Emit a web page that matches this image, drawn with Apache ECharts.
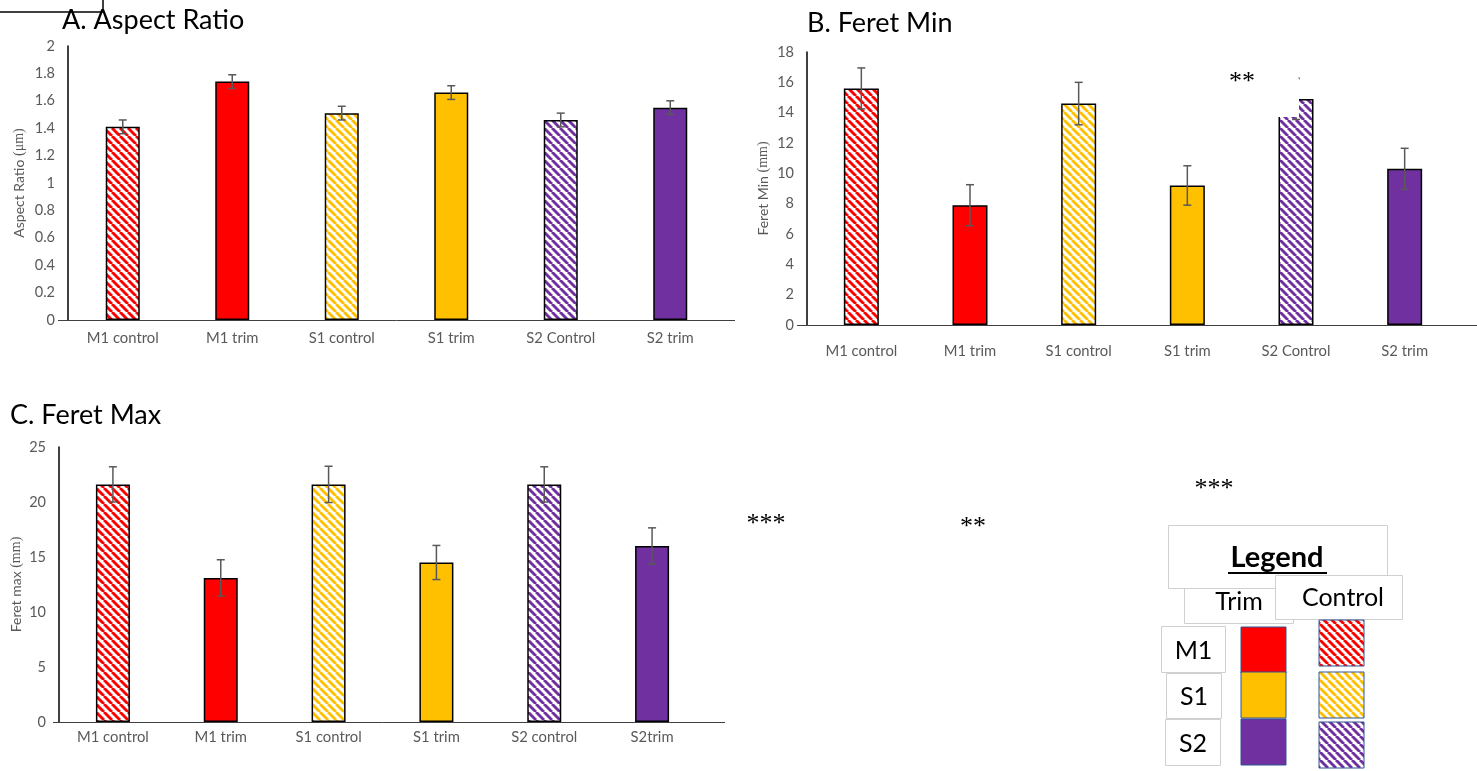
<!DOCTYPE html>
<html><head><meta charset="utf-8">
<script src="https://cdn.jsdelivr.net/npm/echarts@6/dist/echarts.min.js"></script>
<style>html,body{margin:0;padding:0;background:#fff}#c{width:1477px;height:771px}</style>
</head><body><div id="c"></div>
<script>
// ---- data ----
const catsA = ['M1 control','M1 trim','S1 control','S1 trim','S2 Control','S2 trim'];
const valsA = [1.41,1.74,1.51,1.66,1.46,1.55];
const errA  = [0.05,0.05,0.05,0.05,0.05,0.05];
const ticksA = {min:0, max:2, interval:0.2};

const catsB = ['M1 control','M1 trim','S1 control','S1 trim','S2 Control','S2 trim'];
const valsB = [15.6,7.9,14.6,9.2,14.9,10.3];
const errB  = [1.35,1.35,1.4,1.3,1.35,1.35];
const ticksB = {min:0, max:18, interval:2};

const catsC = ['M1 control','M1 trim','S1 control','S1 trim','S2 control','S2trim'];
const valsC = [21.6,13.1,21.6,14.5,21.6,16.0];
const errC  = [1.6,1.65,1.65,1.55,1.6,1.65];
const ticksC = {min:0, max:25, interval:5};

const groupColors = ['#ff0000','#ff0000','#ffc000','#ffc000','#7030a0','#7030a0'];
const isControl = [true,false,true,false,true,false];
const legendRows = ['M1','S1','S2'];
const legendColors = ['#ff0000','#ffc000','#7030a0'];

// ---- helpers ----
function stripes(color){
  const s=8, c=document.createElement('canvas'); c.width=s; c.height=s;
  const g=c.getContext('2d'); g.fillStyle='#fff'; g.fillRect(0,0,s,s);
  g.strokeStyle=color; g.lineWidth=2.9; g.beginPath();
  for (let k=-1;k<=1;k++){ g.moveTo(k*s,0); g.lineTo(k*s+s,s); }
  g.stroke();
  return {image:c, repeat:'repeat'};
}
const FONT = 'Lato';
const GRAY = '#595959';
function barSeries(vals, idx, w){
  return {type:'bar', xAxisIndex:idx, yAxisIndex:idx, barWidth:w, z:2,
    data: vals.map((v,i)=>({value:v, itemStyle:{
      color: isControl[i] ? stripes(groupColors[i]) : groupColors[i],
      borderColor:'#000', borderWidth:1.5}}))};
}
function errSeries(vals, errs, idx){
  return {type:'custom', xAxisIndex:idx, yAxisIndex:idx, z:5,
    encode:{x:0, y:[1,2]},
    data: vals.map((v,i)=>[i, v-errs[i], v+errs[i]]),
    renderItem:(p, api)=>{
      const lo=api.coord([api.value(0), api.value(1)]);
      const hi=api.coord([api.value(0), api.value(2)]);
      const w=4, st={stroke:'#595959', lineWidth:1.5};
      return {type:'group', children:[
        {type:'line', shape:{x1:hi[0],y1:hi[1],x2:lo[0],y2:lo[1]}, style:st},
        {type:'line', shape:{x1:hi[0]-w,y1:hi[1],x2:hi[0]+w,y2:hi[1]}, style:st},
        {type:'line', shape:{x1:lo[0]-w,y1:lo[1],x2:lo[0]+w,y2:lo[1]}, style:st}
      ]};
    }};
}
function xAx(cats, idx, margin){
  return {type:'category', gridIndex:idx, data:cats,
    axisTick:{show:false},
    axisLine:{show:true, lineStyle:{color:'#404040', width:1}},
    axisLabel:{color:GRAY, fontFamily:FONT, fontSize:14.8, margin:margin}};
}
function yAx(t, idx, name, unit, gap){
  return {type:'value', gridIndex:idx, min:t.min, max:t.max, interval:t.interval,
    splitLine:{show:false},
    axisLine:{show:true, lineStyle:{color:'#000', width:1.5}},
    axisTick:{show:false},
    axisLabel:{color:GRAY, fontFamily:FONT, fontSize:14.5, margin:13},
    name:'{a|'+name+' }{b|'+unit+'}', nameLocation:'middle', nameGap:gap,
    nameTextStyle:{rich:{
      a:{color:GRAY, fontFamily:FONT, fontSize:14},
      b:{color:GRAY, fontFamily:'Liberation Serif', fontSize:14}}}};
}

const titleStyle = {fontFamily:FONT, fontSize:27, fontWeight:'normal', color:'#000'};
function txt(x,y,t,size,extra){ return Object.assign({type:'text', x:x, y:y, z:120,
  style:{text:t, fill:'#000', font:(size)+'px "Liberation Serif"', textAlign:'center', textVerticalAlign:'middle'}}, extra||{}); }
function seg(x1,y1,x2,y2,color,w,z){ return {type:'line', z:z||110, shape:{x1,y1,x2,y2}, style:{stroke:color, lineWidth:w}}; }
const boxStroke = '#d0d0d0';

const graphics = [
  // top-left stub box
  seg(0,12,103,12,'#000',1.5), seg(103,0,103,12,'#000',1.5),
  // x-axis line extensions
  seg(58,320.5,68,320.5,'#404040',1), seg(725,320.5,735,320.5,'#404040',1),
  seg(797,325.5,807,325.5,'#404040',1), seg(1459,325.5,1477,325.5,'#404040',1),
  seg(53,722.5,59,722.5,'#404040',1), seg(706,722.5,725,722.5,'#404040',1),
  // white box covering part of panel B
  {type:'rect', z:115, shape:{x:1215, y:55, width:84, height:62}, style:{fill:'#fff'}},
  {type:'rect', z:116, shape:{x:1298, y:77, width:1.5, height:1.5}, style:{fill:'#bbb'}},
  // significance stars
  txt(1242,82,'**',26), txt(766,524,'***',26), txt(973,527,'**',26), txt(1214,489,'***',26),
  // legend boxes
  {type:'rect', z:100, shape:{x:1184.5, y:560, width:109, height:63}, style:{fill:'#fff'}},
  {type:'polyline', z:101, shape:{points:[[1184.5,588],[1184.5,623.5],[1293.5,623.5],[1293.5,600]]}, style:{stroke:boxStroke, fill:null, lineWidth:1}},
  {type:'rect', z:102, shape:{x:1168.5, y:525.5, width:219, height:63}, style:{fill:'#fff', stroke:boxStroke, lineWidth:1}},
  {type:'rect', z:103, shape:{x:1275.5, y:575.5, width:127, height:44}, style:{fill:'#fff', stroke:boxStroke, lineWidth:1}},
  {type:'text', x:1277, y:558, z:120, style:{text:'Legend', fill:'#000', font:'bold 29px Lato', textAlign:'center', textVerticalAlign:'middle'}},
  seg(1228,573,1327,573,'#000',2,120),
  {type:'text', x:1239, y:602, z:120, style:{text:'Trim', fill:'#000', font:'25px Lato', textAlign:'center', textVerticalAlign:'middle'}},
  {type:'text', x:1343, y:598, z:120, style:{text:'Control', fill:'#000', font:'25px Lato', textAlign:'center', textVerticalAlign:'middle'}}
];
const rowBoxes = [[1161.5,626.5,64,46],[1166.5,673.5,55,45],[1165.5,719.5,55,46]];
const trimY = [627,672,719], ctrlY = [620,672,722];
legendRows.forEach((r,i)=>{
  const b=rowBoxes[i];
  graphics.push({type:'rect', z:104, shape:{x:b[0],y:b[1],width:b[2],height:b[3]}, style:{fill:'#fff', stroke:boxStroke, lineWidth:1}});
  graphics.push({type:'text', x:b[0]+b[2]/2, y:b[1]+b[3]/2+1, z:120, style:{text:r, fill:'#000', font:'25px Lato', textAlign:'center', textVerticalAlign:'middle'}});
  graphics.push({type:'rect', z:104, shape:{x:1241, y:trimY[i], width:45, height:46}, style:{fill:legendColors[i], stroke:'#2f5597', lineWidth:1}});
  graphics.push({type:'rect', z:104, shape:{x:1319, y:ctrlY[i], width:45, height:46}, style:{fill:stripes(legendColors[i]), stroke:'#2f5597', lineWidth:1}});
});

const option = {
  backgroundColor:'#fff',
  animation:false,
  title:[
    {text:'A. Aspect Ratio', left:57, top:2, textStyle:titleStyle},
    {text:'B. Feret Min', left:802, top:5, textStyle:titleStyle},
    {text:'C. Feret Max', left:5, top:397, textStyle:titleStyle}
  ],
  grid:[
    {left:68, right:752, top:46, bottom:451},
    {left:807, right:18, top:52, bottom:446},
    {left:59, right:771, top:447, bottom:49}
  ],
  xAxis:[xAx(catsA,0,11), xAx(catsB,1,19), xAx(catsC,2,8)],
  yAxis:[yAx(ticksA,0,'Aspect Ratio','(μm)',42), yAx(ticksB,1,'Feret Min','(mm)',37), yAx(ticksC,2,'Feret max','(mm)',36)],
  series:[
    barSeries(valsA,0,34), errSeries(valsA,errA,0),
    barSeries(valsB,1,35), errSeries(valsB,errB,1),
    barSeries(valsC,2,34), errSeries(valsC,errC,2)
  ],
  graphic:{elements:graphics}
};
const chart = echarts.init(document.getElementById('c'), null, {renderer:'canvas'});
chart.setOption(option);
</script>
</body></html>
